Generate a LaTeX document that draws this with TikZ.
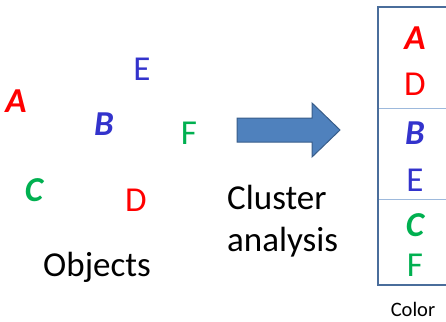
\documentclass[tikz,border=0pt]{standalone}
\usepackage{fontspec}
\setmainfont{Carlito}
\definecolor{cred}{HTML}{FF0000}
\definecolor{cblue}{HTML}{3333CC}
\definecolor{cgreen}{HTML}{00B050}
\definecolor{arrowfill}{HTML}{4F81BD}
\definecolor{arrowline}{HTML}{385D8A}
\definecolor{boxline}{HTML}{4A6D9B}
\definecolor{divline}{HTML}{9DB9DC}
\begin{document}
\begin{tikzpicture}[x=1pt,y=-1pt,
  lbl/.style={anchor=base,inner sep=0pt,font=\fontsize{35}{37}\selectfont},
  bi/.style={lbl,font=\fontsize{35}{37}\selectfont\bfseries\itshape},
  small/.style={anchor=base,inner sep=0pt,text depth=0pt,font=\fontsize{20.5}{22}\selectfont}]
\useasboundingbox (0,0) rectangle (446,321);
% left objects
\node[bi,text=cred] (a) at (16,112) {A};
\node[lbl,text=cblue] (e) at (142,80) {E};
\node[bi,text=cblue] (b) at (104,135) {B};
\node[lbl,text=cgreen] (f) at (189,144) {F};
\node[bi,text=cgreen] (c) at (34,201) {C};
\node[lbl,text=cred] (d) at (136,211) {D};
\node[lbl] (obj) at (97,276) {Objects};
% arrow
\draw[fill=arrowfill,draw=arrowline,line width=1pt,line join=miter]
  (237,118) -- (312,118) -- (312,103) -- (340,130) -- (312,157) -- (312,142) -- (237,142) -- cycle;
\node[lbl,anchor=base west] (cl) at (227,209) {Cluster};
\node[lbl,anchor=base west] (an) at (227,251) {analysis};
% box
\draw[divline,line width=1pt] (378,108) -- (446,108);
\draw[divline,line width=1pt] (378,199) -- (446,199);
\draw[boxline,line width=2pt] (446,7) -- (378,7) -- (378,285) -- (446,285);
\node[bi,text=cred] (ra) at (415,49) {A};
\node[lbl,text=cred] (rd) at (415,95) {D};
\node[bi,text=cblue] (rb) at (415,144) {B};
\node[lbl,text=cblue] (re) at (415,191) {E};
\node[bi,text=cgreen] (rc) at (415,236) {C};
\node[lbl,text=cgreen] (rf) at (415,276) {F};
\node[small] (col) at (413,316.5) {Color};
\end{tikzpicture}
\end{document}
